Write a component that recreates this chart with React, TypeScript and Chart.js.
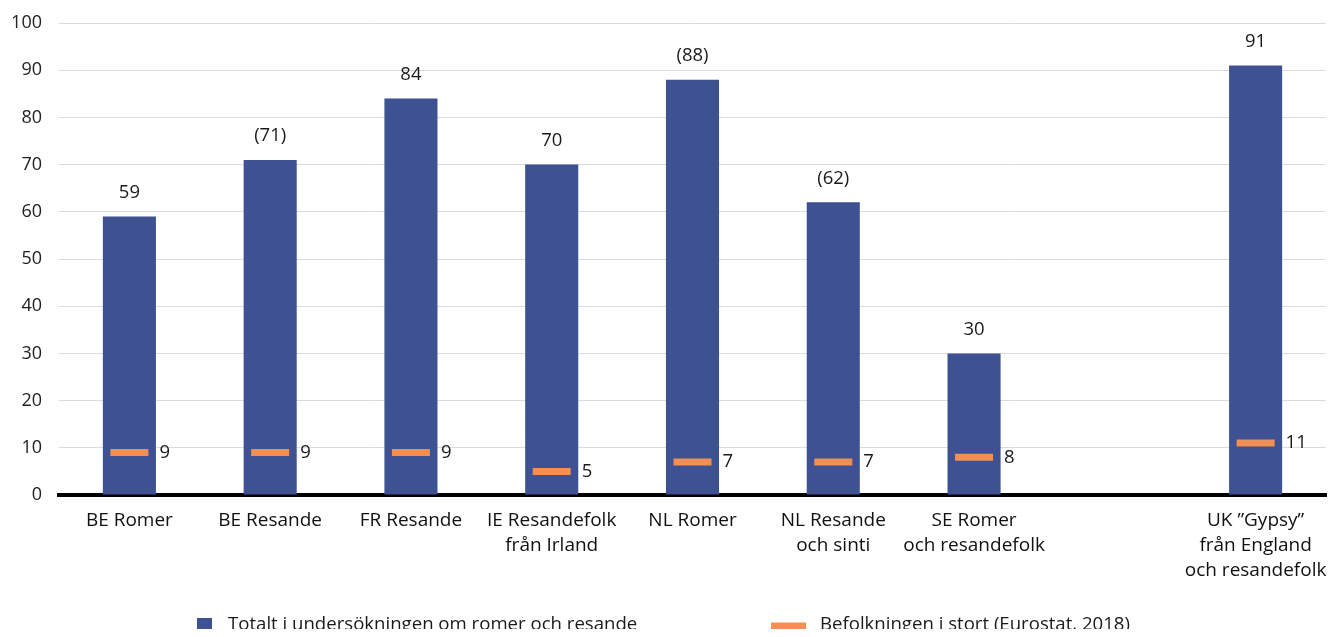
import React, { useEffect, useRef } from "react";
import { Chart, registerables } from "chart.js";

Chart.register(...registerables);

const categories: string[][] = [
  ["BE Romer"],
  ["BE Resande"],
  ["FR Resande"],
  ["IE Resandefolk", "från Irland"],
  ["NL Romer"],
  ["NL Resande", "och sinti"],
  ["SE Romer", "och resandefolk"],
  [""],
  ["UK ”Gypsy”", "från England", "och resandefolk"],
];

const surveyValues: (number | null)[] = [59, 71, 84, 70, 88, 62, 30, null, 91];
const surveyLabels: string[] = ["59", "(71)", "84", "70", "(88)", "(62)", "30", "", "91"];
const generalValues: (number | null)[] = [9, 9, 9, 5, 7, 7, 8, null, 11];
const generalLabels: string[] = ["9", "9", "9", "5", "7", "7", "8", "", "11"];

const legendLabels: string[] = [
  "Totalt i undersökningen om romer och resande",
  "Befolkningen i stort (Eurostat, 2018)",
];

const BLUE = "#3E5192";
const ORANGE = "#F28F55";
const FONT = "'Open Sans', 'Noto Sans', sans-serif";

const labelPlugin = {
  id: "customLabels",
  afterDatasetsDraw(chart: any) {
    const ctx = chart.ctx;
    ctx.save();
    ctx.fillStyle = "#1a1a1a";
    ctx.font = `18.5px ${FONT}`;
    ctx.textBaseline = "middle";
    const barMeta = chart.getDatasetMeta(0);
    barMeta.data.forEach((el: any, i: number) => {
      const t = surveyLabels[i];
      if (!t || surveyValues[i] == null) return;
      ctx.textAlign = "center";
      ctx.fillText(t, el.x, el.y - 24);
    });
    const lineMeta = chart.getDatasetMeta(1);
    lineMeta.data.forEach((el: any, i: number) => {
      const t = generalLabels[i];
      if (!t || generalValues[i] == null) return;
      ctx.textAlign = "left";
      ctx.fillText(t, el.x + 30, el.y);
    });
    ctx.restore();
  },
  afterDraw(chart: any) {
    const ctx = chart.ctx;
    ctx.save();
    ctx.fillStyle = BLUE;
    ctx.fillRect(189, 610, 15, 15);
    ctx.fillStyle = ORANGE;
    ctx.fillRect(763, 614.5, 35, 7);
    ctx.fillStyle = "#1a1a1a";
    ctx.font = `18.6px ${FONT}`;
    ctx.textBaseline = "middle";
    ctx.textAlign = "left";
    ctx.fillText(legendLabels[0], 220, 617);
    ctx.fillText(legendLabels[1], 812, 617);
    ctx.restore();
  },
};

export default function App() {
  const canvasRef = useRef<HTMLCanvasElement>(null);

  useEffect(() => {
    if (!canvasRef.current) return;
    const chart = new Chart(canvasRef.current, {
      type: "bar",
      data: {
        labels: categories,
        datasets: [
          {
            type: "bar",
            label: legendLabels[0],
            data: surveyValues,
            backgroundColor: BLUE,
            barPercentage: 0.377,
            categoryPercentage: 1,
            order: 2,
          },
          {
            type: "line",
            label: legendLabels[1],
            data: generalValues,
            showLine: false,
            pointStyle: "line",
            pointRadius: 19,
            pointHoverRadius: 19,
            pointBorderWidth: 7,
            pointHoverBorderWidth: 7,
            borderColor: ORANGE,
            pointBorderColor: ORANGE,
            backgroundColor: ORANGE,
            order: 1,
          } as any,
        ],
      },
      options: {
        animation: false,
        responsive: true,
        maintainAspectRatio: false,
        events: [],
        layout: { autoPadding: false, padding: { top: 15, right: 8, left: 0, bottom: 0 } },
        plugins: {
          legend: { display: false },
          tooltip: { enabled: false },
        },
        scales: {
          x: {
            grid: { display: false, drawTicks: false },
            border: { display: true, color: "#000", width: 4 },
            ticks: {
              autoSkip: false,
              maxRotation: 0,
              minRotation: 0,
              padding: 13,
              color: "#111",
              font: { family: FONT, size: 19, weight: "500", lineHeight: 25 / 19 },
            },
            afterFit: (scale: any) => {
              scale.height = 142;
              scale.paddingLeft = 0;
              scale.paddingRight = 0;
            },
          },
          y: {
            min: 0,
            max: 100,
            ticks: {
              stepSize: 10,
              padding: 17,
              color: "#222",
              font: { family: FONT, size: 18 },
            },
            grid: { color: "#dcdcdc", lineWidth: 1, drawTicks: false },
            border: { display: false },
            afterFit: (scale: any) => {
              scale.width = 51;
              scale.paddingTop = 0;
              scale.paddingBottom = 0;
            },
          },
        },
      },
      plugins: [labelPlugin],
    });
    return () => chart.destroy();
  }, []);

  return (
    <div style={{ position: "relative", width: "100%", height: "621px" }}>
      <div
        style={{
          position: "absolute",
          left: 0,
          top: 0,
          right: 0,
          height: "629px",
        }}
      >
        <canvas ref={canvasRef} style={{ display: "block" }} />
      </div>
    </div>
  );
}
